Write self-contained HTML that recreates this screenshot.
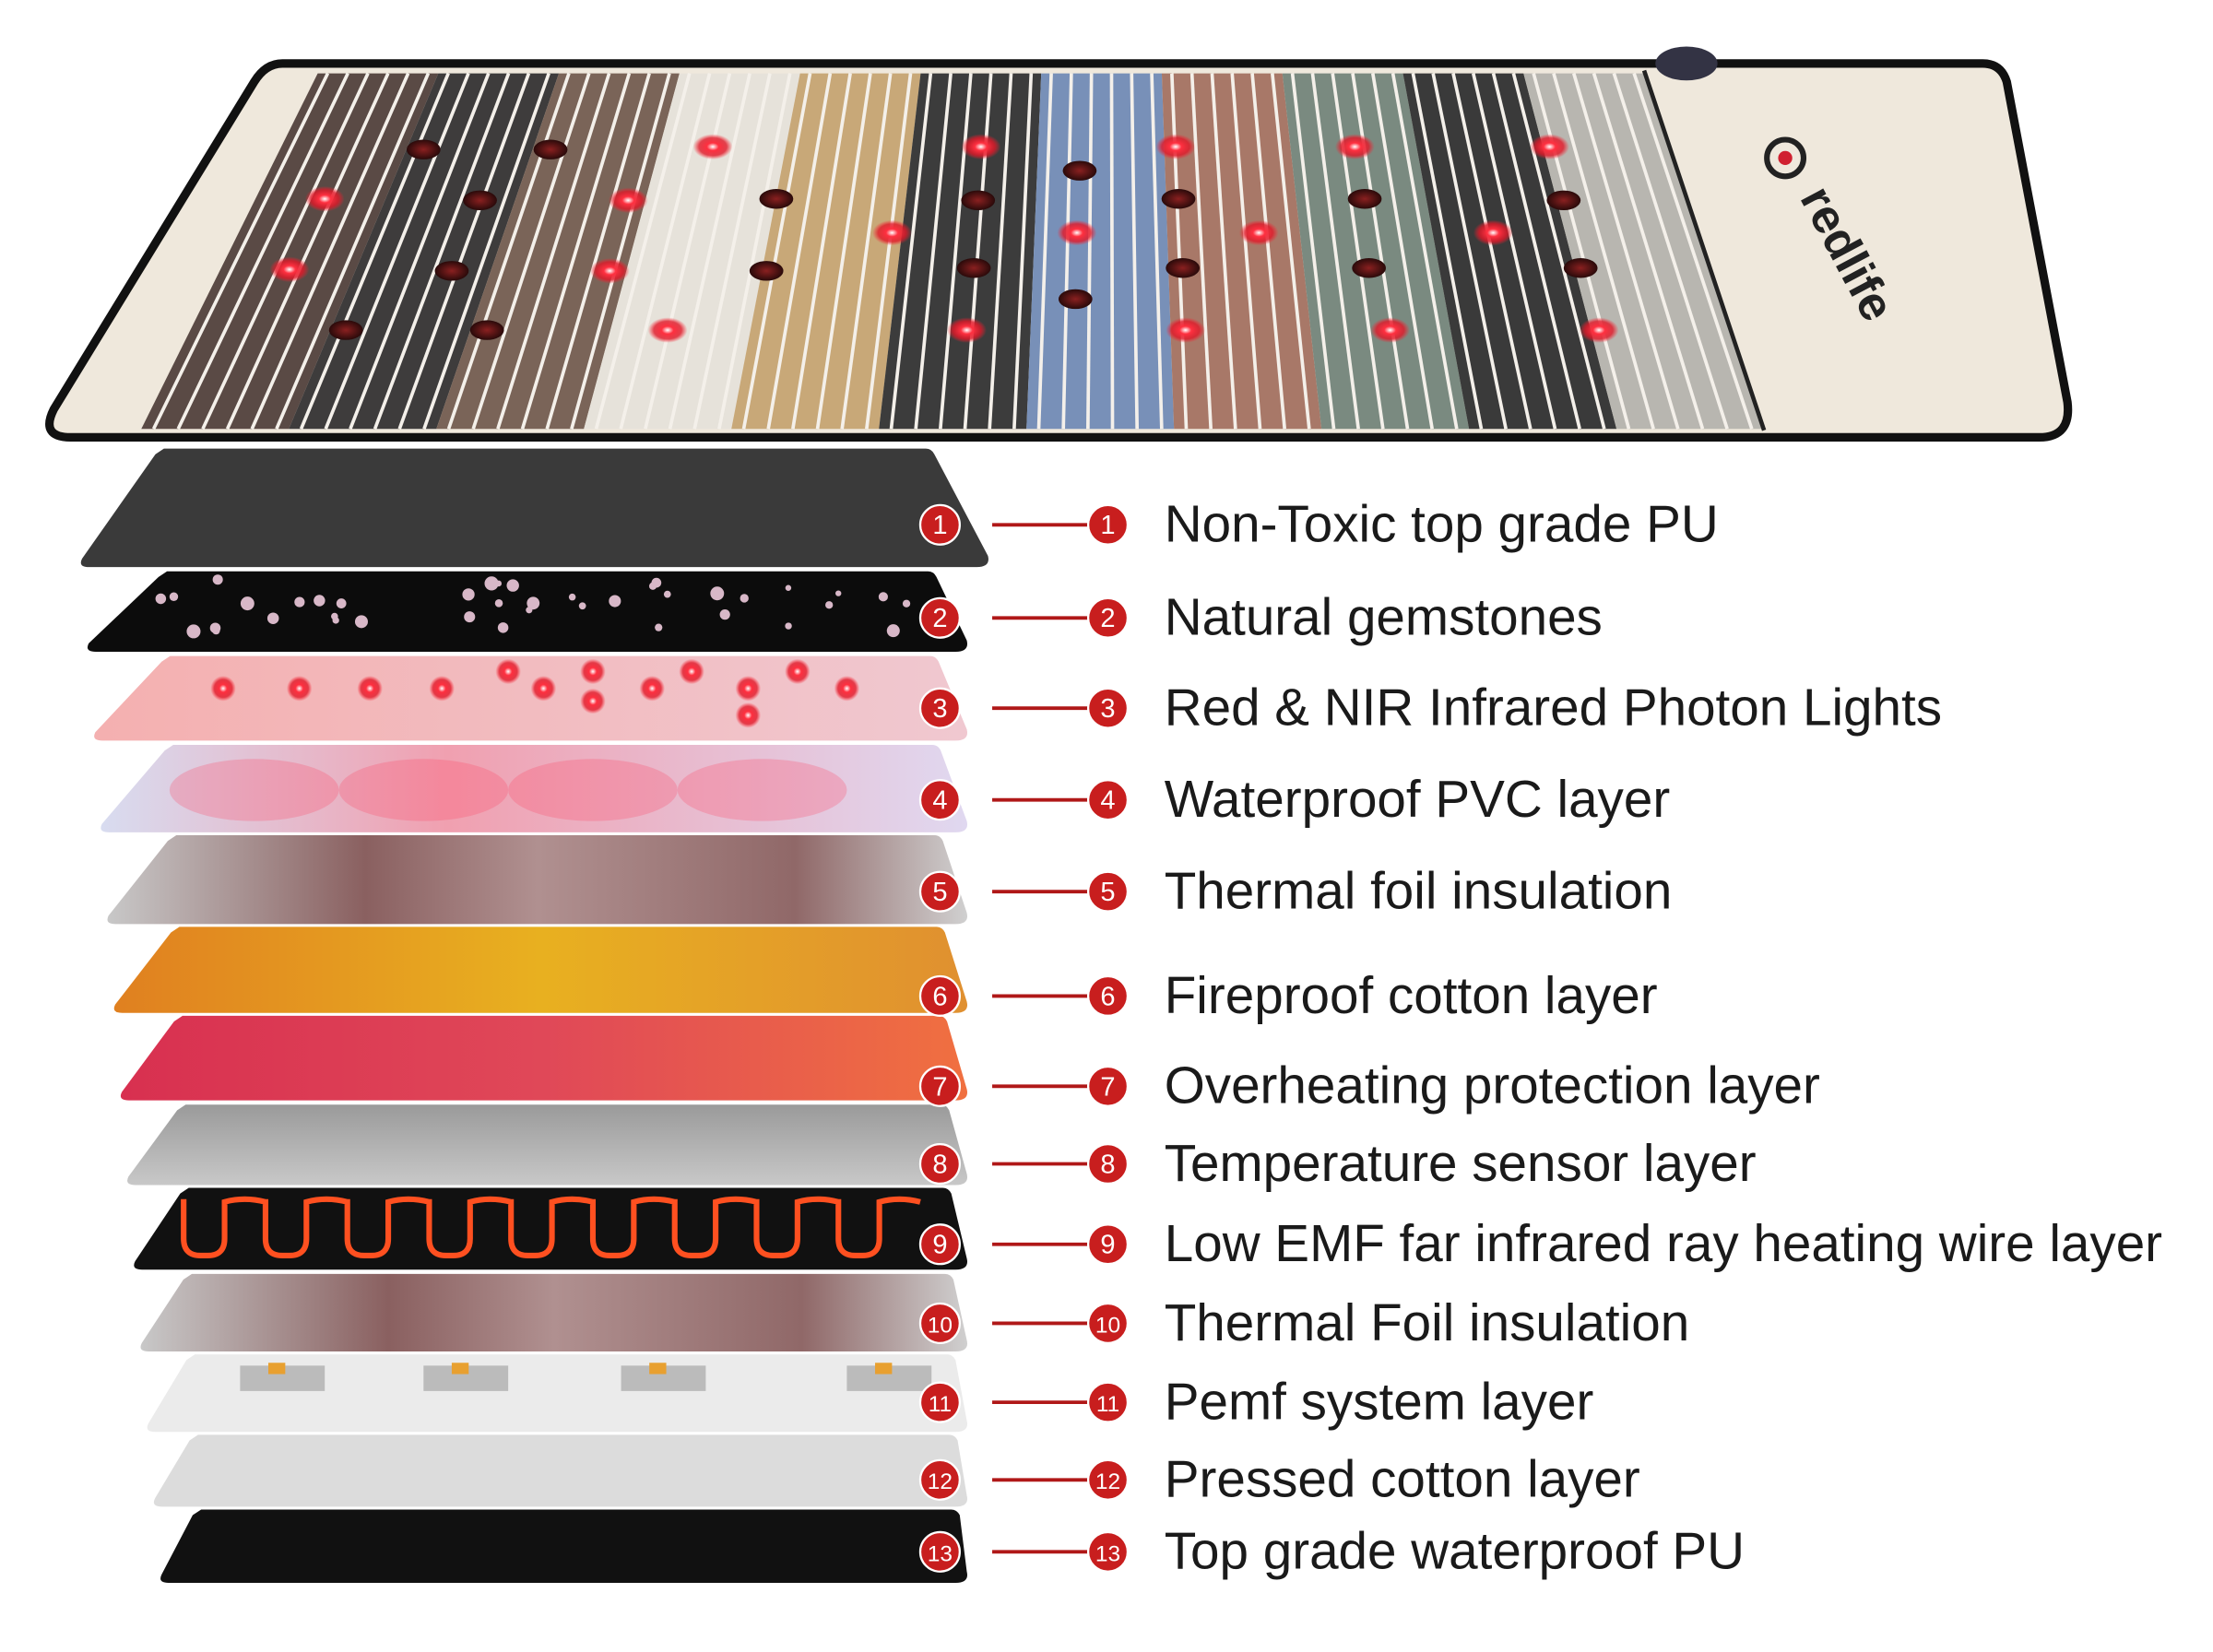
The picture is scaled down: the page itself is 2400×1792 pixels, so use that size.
<!DOCTYPE html>
<html><head><meta charset="utf-8">
<style>
html,body{margin:0;padding:0;background:#fff;}
svg{display:block;}
</style></head>
<body>
<svg id="s" width="2400" height="1792" viewBox="0 0 1568 1171" xmlns="http://www.w3.org/2000/svg">
<defs>
<radialGradient id="rd"><stop offset="0" stop-color="#fff"/><stop offset="0.3" stop-color="#ff3040"/><stop offset="0.7" stop-color="#e01828" stop-opacity="0.8"/><stop offset="1" stop-color="#ff2030" stop-opacity="0"/></radialGradient>
<radialGradient id="dd"><stop offset="0" stop-color="#8a2020"/><stop offset="1" stop-color="#2a0a0a"/></radialGradient>
<linearGradient id="g4" x1="0" x2="1"><stop offset="0" stop-color="#d8dcf0"/><stop offset="0.4" stop-color="#f0a0b0"/><stop offset="1" stop-color="#e0d8f0"/></linearGradient>
<linearGradient id="g6" x1="0" x2="1"><stop offset="0" stop-color="#e08020"/><stop offset="0.5" stop-color="#e8b020"/><stop offset="1" stop-color="#e09030"/></linearGradient>
<linearGradient id="g7" x1="0" x2="1"><stop offset="0" stop-color="#d83050"/><stop offset="0.5" stop-color="#e04858"/><stop offset="1" stop-color="#f07040"/></linearGradient>
<linearGradient id="g5" x1="0" x2="1"><stop offset="0" stop-color="#c8c8c8"/><stop offset="0.3" stop-color="#8a6060"/><stop offset="0.5" stop-color="#b09090"/><stop offset="0.8" stop-color="#906868"/><stop offset="1" stop-color="#d0d0d0"/></linearGradient>
<linearGradient id="g8" x1="0" y1="0" x2="0" y2="1"><stop offset="0" stop-color="#9a9a9a"/><stop offset="1" stop-color="#c8c8c8"/></linearGradient>
<linearGradient id="g3" x1="0" x2="1"><stop offset="0" stop-color="#f4b0b0"/><stop offset="1" stop-color="#f0c8d0"/></linearGradient>
</defs>
<g id="mat"></g>
<g id="layers"></g>
<g id="labels" font-family="Liberation Sans, sans-serif"></g>
</svg>
<script>
var NS="http://www.w3.org/2000/svg";
function el(p,t,a,txt){var e=document.createElementNS(NS,t);for(var k in a)e.setAttribute(k,a[k]);if(txt!=null)e.textContent=txt;p.appendChild(e);return e;}
var seed=7;function rnd(){seed=(seed*9301+49297)%233280;return seed/233280;}
var mat=document.getElementById('mat');
el(mat,'path',{d:'M200 45 L1405 45 Q1418 45 1422 58 L1465 285 Q1468 310 1445 310 L50 310 Q28 310 38 290 L180 58 Q188 45 200 45 Z',fill:'#efe8dc',stroke:'#111','stroke-width':6});
var tL=225,tR=1165,bL=100,bR=1250,ty=52,by=304;
function X(u,top){return top?tL+u*(tR-tL):bL+u*(bR-bL);}
var bands=['#5a4a45','#3e3c3c','#7a6458','#e6e2da','#c8a878','#3c3c3c','#7890b8','#a87868','#7a8a80','#3a3a3a','#b8b6b0'];
var n=bands.length;
for(var i=0;i<n;i++){
 var u0=i/n,u1=(i+1)/n;
 el(mat,'polygon',{points:X(u0,1)+','+ty+' '+X(u1,1)+','+ty+' '+X(u1,0)+','+by+' '+X(u0,0)+','+by,fill:bands[i]});
 for(var j=0;j<6;j++){var u=u0+(j+0.5)/6*(u1-u0);
  el(mat,'line',{x1:X(u,1),y1:ty,x2:X(u,0),y2:by,stroke:'#f4f0ea','stroke-width':2.4});}
}
el(mat,'line',{x1:1165,y1:50,x2:1250,y2:305,stroke:'#222','stroke-width':3});
el(mat,'ellipse',{cx:1195,cy:45,rx:22,ry:12,fill:'#334'});
el(mat,'text',{x:0,y:0,transform:'translate(1275,140) rotate(62)','font-family':'Liberation Sans, sans-serif','font-weight':'bold','font-size':34,fill:'#222'},'redlife');
el(mat,'circle',{cx:1265,cy:112,r:13,fill:'none',stroke:'#222','stroke-width':4});
el(mat,'circle',{cx:1265,cy:112,r:5,fill:'#d02030'});
var red=[[230,141],[205,191],[505,104],[445,142],[432,192],[473,234],[632,165],[695,104],[685,234],[763,165],[833,104],[840,234],[892,165],[960,104],[985,234],[1058,165],[1098,104],[1133,234]];
var dark=[[300,106],[390,106],[340,142],[320,192],[245,234],[345,234],[550,141],[543,192],[693,142],[690,190],[765,121],[762,212],[835,141],[838,190],[967,141],[970,190],[1108,142],[1120,190]];
red.forEach(function(p){el(mat,'ellipse',{cx:p[0],cy:p[1],rx:14,ry:9,fill:'url(#rd)'});});
dark.forEach(function(p){el(mat,'ellipse',{cx:p[0],cy:p[1],rx:12,ry:7,fill:'url(#dd)'});});

var L=document.getElementById('layers');
var ly=[[318,402,'#3a3a3a'],[405,462,'#0c0c0c'],[465,525,'url(#g3)'],[528,590,'url(#g4)'],[592,655,'url(#g5)'],[657,718,'url(#g6)'],[720,780,'url(#g7)'],[783,840,'url(#g8)'],[842,900,'#111'],[903,958,'url(#g5)'],[960,1015,'#ebebeb'],[1017,1068,'#dcdcdc'],[1070,1122,'#111']];
ly.forEach(function(a,i){
 var t=a[0],b=a[1];var bl=55+i*4.7,tl=bl+55-i*2.5;var tr=660+i*1.5,br=685;
 if(i==0){br=700;}
 el(L,'path',{d:'M'+(tl+6)+' '+t+' L'+(tr-4)+' '+t+' Q'+tr+' '+t+' '+(tr+2)+' '+(t+4)+' L'+br+' '+(b-8)+' Q'+(br+2)+' '+b+' '+(br-8)+' '+b+' L'+(bl+8)+' '+b+' Q'+bl+' '+b+' '+(bl+3)+' '+(b-6)+' L'+(tl)+' '+(t+4)+' Z',fill:a[2]});
});
for(var k=0;k<40;k++){var x=110+rnd()*540,y=410+rnd()*40;el(L,'circle',{cx:x,cy:y,r:2+rnd()*3,fill:'#d8b8c8'});}
[[158,488],[212,488],[262,488],[313,488],[360,476],[385,488],[420,476],[420,497],[462,488],[490,476],[530,488],[530,507],[565,476],[600,488]].forEach(function(p){el(L,'circle',{cx:p[0],cy:p[1],r:9,fill:'url(#rd)'});});
[[180,560],[300,560],[420,560],[540,560]].forEach(function(p){el(L,'ellipse',{cx:p[0],cy:p[1],rx:60,ry:22,fill:'#ff4060','opacity':0.25});});
var d='';for(var w=0;w<9;w++){var x0=130+w*58;d+=(w==0?'M':' L')+x0+' 850 L'+x0+' 878 Q'+x0+' 890 '+(x0+12)+' 890 L'+(x0+17)+' 890 Q'+(x0+29)+' 890 '+(x0+29)+' 878 L'+(x0+29)+' 852 Q'+(x0+43)+' 848 '+(x0+58)+' 852';}
el(L,'path',{d:d,fill:'none',stroke:'#ff5020','stroke-width':4});
[170,300,440,600].forEach(function(x){el(L,'rect',{x:x,y:968,width:60,height:18,fill:'#bbb'});el(L,'rect',{x:x+20,y:966,width:12,height:8,fill:'#e8a030'});});

var G=document.getElementById('labels');
var labs=['Non-Toxic top grade PU','Natural gemstones','Red & NIR Infrared Photon Lights','Waterproof PVC layer','Thermal foil insulation','Fireproof cotton layer','Overheating protection layer','Temperature sensor layer','Low EMF far infrared ray heating wire layer','Thermal Foil insulation','Pemf system layer','Pressed cotton layer','Top grade waterproof PU'];
var ys=[372,438,502,567,632,706,770,825,882,938,994,1049,1100];
labs.forEach(function(t,i){var y=ys[i];
 el(G,'line',{x1:703,y1:y,x2:772,y2:y,stroke:'#b01818','stroke-width':2.5});
 [[666,y],[785,y]].forEach(function(p){el(G,'circle',{cx:p[0],cy:p[1],r:14,fill:'#c81e1e',stroke:'#fff','stroke-width':1.5});
  el(G,'text',{x:p[0],y:p[1]+6.5,'text-anchor':'middle','font-size':i>=9?16:19,fill:'#fff'},String(i+1));});
 el(G,'text',{x:825,y:y+12,'font-size':37,fill:'#1a1a1a'},t);
});
</script>
</body></html>
